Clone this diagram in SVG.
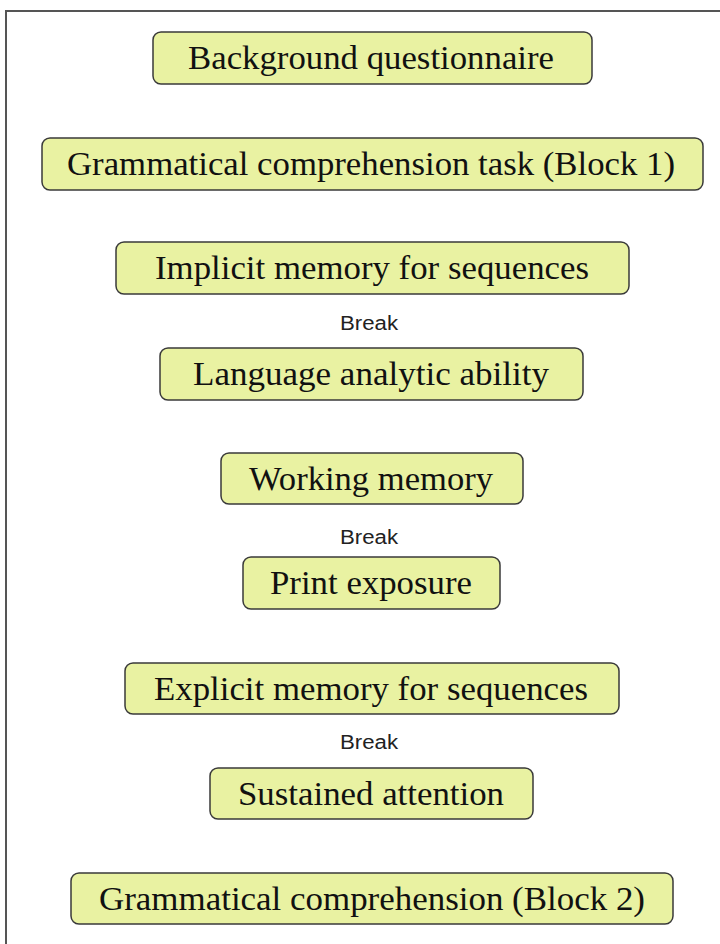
<svg xmlns="http://www.w3.org/2000/svg" width="720" height="944" viewBox="0 0 720 944">
<style>
.box{fill:#e9f2a2;stroke:#3a3a3a;stroke-width:1.5}
.t{font-family:"Liberation Serif","Times New Roman",serif;font-size:34px;fill:#111;text-anchor:middle}
.b{font-family:"Liberation Sans",Arial,sans-serif;font-size:20px;fill:#222;text-anchor:middle}
</style>
<rect width="720" height="944" fill="#fff"/>
<path d="M6,944 V11 H720" fill="none" stroke="#555" stroke-width="2"/>
<g id="connectors"></g>
<g id="n1"><rect class="box" x="153" y="32" width="439" height="52" rx="8"/><text class="t" x="371" y="69" textLength="366" lengthAdjust="spacingAndGlyphs">Background questionnaire</text></g>
<g id="n2"><rect class="box" x="42" y="138" width="661" height="52" rx="8"/><text class="t" x="371" y="175" textLength="608" lengthAdjust="spacingAndGlyphs">Grammatical comprehension task (Block 1)</text></g>
<g id="n3"><rect class="box" x="116" y="242" width="513" height="52" rx="8"/><text class="t" x="372" y="279" textLength="434" lengthAdjust="spacingAndGlyphs">Implicit memory for sequences</text></g>
<g id="br1"><text class="b" x="369" y="330" textLength="58" lengthAdjust="spacingAndGlyphs">Break</text></g>
<g id="n4"><rect class="box" x="160" y="348" width="423" height="52" rx="8"/><text class="t" x="371" y="385" textLength="356" lengthAdjust="spacingAndGlyphs">Language analytic ability</text></g>
<g id="n5"><rect class="box" x="221" y="453" width="302" height="51" rx="8"/><text class="t" x="371" y="490" textLength="244" lengthAdjust="spacingAndGlyphs">Working memory</text></g>
<g id="br2"><text class="b" x="369" y="544" textLength="58" lengthAdjust="spacingAndGlyphs">Break</text></g>
<g id="n6"><rect class="box" x="243" y="557" width="257" height="52" rx="8"/><text class="t" x="371" y="594" textLength="202" lengthAdjust="spacingAndGlyphs">Print exposure</text></g>
<g id="n7"><rect class="box" x="125" y="663" width="494" height="51" rx="8"/><text class="t" x="371" y="700" textLength="434" lengthAdjust="spacingAndGlyphs">Explicit memory for sequences</text></g>
<g id="br3"><text class="b" x="369" y="749" textLength="58" lengthAdjust="spacingAndGlyphs">Break</text></g>
<g id="n8"><rect class="box" x="210" y="768" width="323" height="51" rx="8"/><text class="t" x="371" y="805" textLength="266" lengthAdjust="spacingAndGlyphs">Sustained attention</text></g>
<g id="n9"><rect class="box" x="71" y="873" width="602" height="51" rx="8"/><text class="t" x="372" y="910" textLength="546" lengthAdjust="spacingAndGlyphs">Grammatical comprehension (Block 2)</text></g>
</svg>
